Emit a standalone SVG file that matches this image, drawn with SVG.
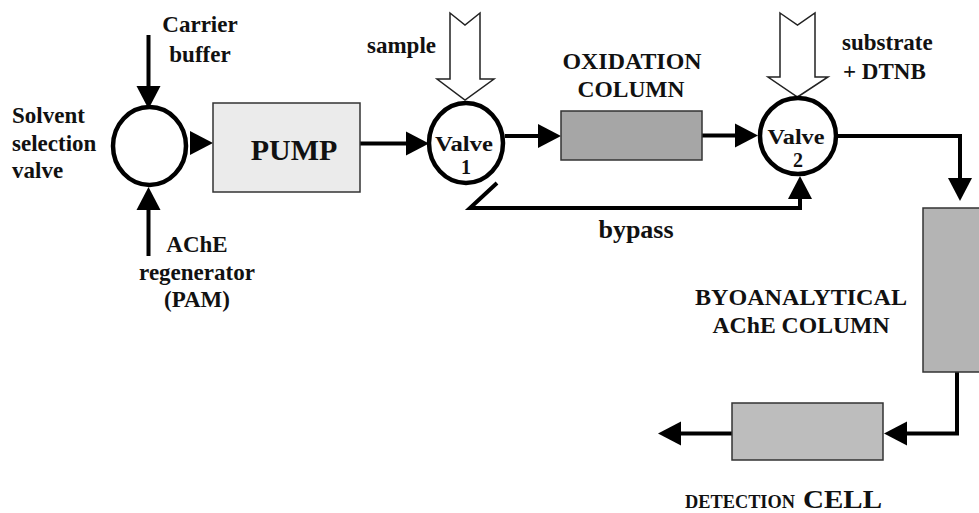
<svg xmlns="http://www.w3.org/2000/svg" width="979" height="513" viewBox="0 0 979 513">
  <style>
    text { font-family: "Liberation Serif", "Times New Roman", serif; font-weight: bold; fill: #111; }
    .lbl { font-size: 23px; }
    .vlbl { font-size: 20px; }
    .big { font-size: 30px; }
    .ring { fill: #fff; stroke: #000; stroke-width: 4.5; }
    .box { stroke: #333; stroke-width: 1.5; }
    .pipe { fill: none; stroke: #000; stroke-width: 4; stroke-linejoin: miter; }
    .head { fill: #000; }
    .feed { fill: #fff; stroke: #222; stroke-width: 1.5; stroke-linejoin: miter; }
  </style>
  <defs>
    <marker id="arrow" markerUnits="userSpaceOnUse" markerWidth="24" markerHeight="24" refX="0" refY="12" orient="auto" overflow="visible">
      <path d="M0,0 L23,12 L0,24 Z" fill="#000"/>
    </marker>
  </defs>

  <rect width="979" height="513" fill="#fff"/>

  <!-- connectors -->
  <g id="connectors">
    <path class="pipe" d="M148.5,35 V86" marker-end="url(#arrow)"/>
    <path class="pipe" d="M148.5,256 V210" marker-end="url(#arrow)"/>
    <polygon class="head" points="190,131 213,143 190,155"/>
    <path class="pipe" d="M360,143.5 H406" marker-end="url(#arrow)"/>
    <path class="pipe" d="M505,136 H538" marker-end="url(#arrow)"/>
    <path class="pipe" d="M702,135.5 H735" marker-end="url(#arrow)"/>
    <path class="pipe" d="M497,183 L470,208 H800 V199" marker-end="url(#arrow)"/>
    <path class="pipe" d="M838,136 H960 V178" marker-end="url(#arrow)"/>
    <path class="pipe" d="M957,372 V433.5 H907" marker-end="url(#arrow)"/>
    <path class="pipe" d="M732,433.5 H681" marker-end="url(#arrow)"/>
  </g>

  <!-- solvent selection valve -->
  <g id="solvent-valve">
    <ellipse class="ring" cx="149.5" cy="146" rx="36.5" ry="39"/>
    <text class="lbl" x="12" y="123">Solvent</text>
    <text class="lbl" x="12" y="151">selection</text>
    <text class="lbl" x="12" y="178">valve</text>
  </g>

  <g id="carrier-buffer">
    <text class="lbl" x="200" y="32" text-anchor="middle">Carrier</text>
    <text class="lbl" x="200" y="62" text-anchor="middle">buffer</text>
  </g>

  <g id="ache-regenerator">
    <text class="lbl" x="197" y="252" text-anchor="middle">AChE</text>
    <text class="lbl" x="197" y="280" text-anchor="middle">regenerator</text>
    <text class="lbl" x="197" y="307" text-anchor="middle">(PAM)</text>
  </g>

  <!-- pump -->
  <g id="pump">
    <rect class="box" x="213" y="103" width="147" height="89" fill="#ebebeb"/>
    <text class="big" x="294" y="160" text-anchor="middle">PUMP</text>
  </g>

  <!-- sample injection -->
  <g id="sample">
    <polygon class="feed" points="450,13 465,25 480,13 480,79 494,79 465,100 437,79 450,79"/>
    <text class="lbl" x="367" y="53">sample</text>
  </g>

  <g id="valve-1">
    <ellipse class="ring" cx="466" cy="143" rx="37" ry="40"/>
    <text class="vlbl" x="464" y="151" text-anchor="middle" textLength="58" lengthAdjust="spacingAndGlyphs">Valve</text>
    <text class="vlbl" x="466" y="173.5" text-anchor="middle">1</text>
  </g>

  <g id="oxidation-column">
    <rect class="box" x="561" y="111" width="141" height="49" fill="#a6a6a6"/>
    <text class="lbl" x="632" y="69" text-anchor="middle" textLength="139" lengthAdjust="spacingAndGlyphs">OXIDATION</text>
    <text class="lbl" x="631" y="97" text-anchor="middle" textLength="107" lengthAdjust="spacingAndGlyphs">COLUMN</text>
  </g>

  <g id="substrate">
    <polygon class="feed" points="780,13 797.5,25 815,13 815,77 828,77 797.5,97 768,77 780,77"/>
    <text class="lbl" x="842" y="50">substrate</text>
    <text class="lbl" x="843" y="79">+ DTNB</text>
  </g>

  <g id="valve-2">
    <circle class="ring" cx="798" cy="136" r="38"/>
    <text class="vlbl" x="796" y="144" text-anchor="middle" textLength="57" lengthAdjust="spacingAndGlyphs">Valve</text>
    <text class="vlbl" x="798" y="166.5" text-anchor="middle">2</text>
  </g>

  <g id="bypass">
    <text class="lbl" x="636" y="238" text-anchor="middle" style="font-size:26px">bypass</text>
  </g>

  <g id="ache-column">
    <rect class="box" x="923" y="208" width="64" height="164" fill="#b4b4b4"/>
    <text class="lbl" x="801" y="305" text-anchor="middle" textLength="212" lengthAdjust="spacingAndGlyphs">BYOANALYTICAL</text>
    <text class="lbl" x="801" y="333" text-anchor="middle" textLength="177" lengthAdjust="spacingAndGlyphs">AChE COLUMN</text>
  </g>

  <g id="detection-cell">
    <rect class="box" x="732" y="403" width="151" height="57" fill="#bdbdbd"/>
    <text x="685" y="508" style="font-size:18px" textLength="110" lengthAdjust="spacingAndGlyphs">DETECTION</text>
    <text x="803" y="508" style="font-size:26px" textLength="79" lengthAdjust="spacingAndGlyphs">CELL</text>
  </g>
</svg>
